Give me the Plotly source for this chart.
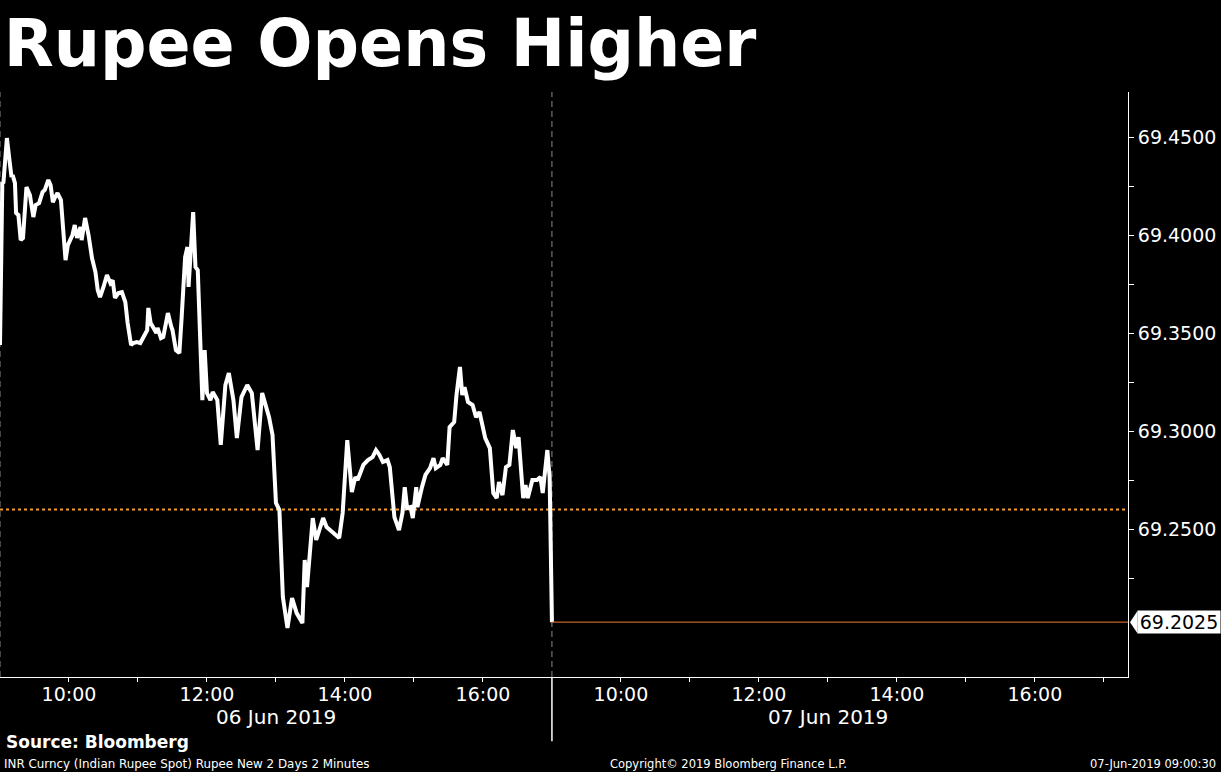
import plotly.graph_objects as go

# ── Data ──────────────────────────────────────────────────────────────────────
TITLE = "Rupee Opens Higher"

times_jun06 = [
    "09:00", "09:02", "09:03", "09:06", "09:08", "09:10", "09:11", "09:13", "09:14", "09:16",
    "09:18", "09:20", "09:23", "09:26", "09:29", "09:31", "09:34", "09:37", "09:39", "09:42",
    "09:44", "09:46", "09:48", "09:50", "09:53", "09:55", "09:57", "09:59", "10:03", "10:05",
    "10:07", "10:10", "10:11", "10:14", "10:17", "10:20", "10:23", "10:25", "10:27", "10:30",
    "10:33", "10:36", "10:38", "10:40", "10:43", "10:46", "10:49", "10:51", "10:54", "10:56",
    "10:59", "11:02", "11:04", "11:08", "11:09", "11:11", "11:13", "11:16", "11:17", "11:20",
    "11:22", "11:24", "11:26", "11:29", "11:30", "11:33", "11:36", "11:38", "11:41", "11:43",
    "11:44", "11:48", "11:50", "11:52", "11:56", "11:58", "12:00", "12:03", "12:05", "12:09",
    "12:12", "12:16", "12:19", "12:23", "12:26", "12:30", "12:35", "12:39", "12:42", "12:44",
    "12:48", "12:50", "12:54", "12:57", "13:00", "13:03", "13:06", "13:10", "13:14", "13:18",
    "13:23", "13:25", "13:27", "13:32", "13:35", "13:41", "13:44", "13:49", "13:55", "13:58",
    "14:02", "14:06", "14:09", "14:11", "14:16", "14:20", "14:24", "14:27", "14:30", "14:33",
    "14:37", "14:39", "14:43", "14:47", "14:50", "14:52", "14:54", "14:57", "14:59", "15:02",
    "15:03", "15:07", "15:10", "15:14", "15:17", "15:19", "15:23", "15:25", "15:29", "15:31",
    "15:35", "15:37", "15:40", "15:42", "15:44", "15:47", "15:51", "15:54", "15:57", "16:02",
    "16:06", "16:09", "16:12", "16:14", "16:17", "16:20", "16:23", "16:26", "16:29", "16:31",
    "16:35", "16:37", "16:39", "16:43", "16:47", "16:50", "16:52", "16:56", "16:58",
]
prices_jun06 = [
    69.3439, 69.4265, 69.4270, 69.4495, 69.4393, 69.4296, 69.4306, 69.4265, 69.4112, 69.4102,
    69.3974, 69.3985, 69.4245, 69.4204, 69.4092, 69.4153, 69.4163, 69.4219, 69.4230, 69.4281,
    69.4255, 69.4168, 69.4194, 69.4214, 69.4179, 69.4051, 69.3872, 69.3949, 69.4000, 69.4051,
    69.3985, 69.4041, 69.3974, 69.4087, 69.4000, 69.3883, 69.3811, 69.3719, 69.3684, 69.3735,
    69.3796, 69.3755, 69.3770, 69.3679, 69.3704, 69.3709, 69.3658, 69.3551, 69.3439, 69.3449,
    69.3454, 69.3449, 69.3474, 69.3515, 69.3628, 69.3551, 69.3531, 69.3500, 69.3526, 69.3474,
    69.3480, 69.3551, 69.3602, 69.3531, 69.3515, 69.3413, 69.3398, 69.3582, 69.3888, 69.3939,
    69.3735, 69.4117, 69.3837, 69.3821, 69.3158, 69.3413, 69.3194, 69.3158, 69.3199, 69.3158,
    69.2929, 69.3235, 69.3296, 69.3158, 69.2964, 69.3173, 69.3235, 69.3194, 69.3020, 69.2903,
    69.3194, 69.3158, 69.3071, 69.2980, 69.2633, 69.2597, 69.2153, 69.1995, 69.2148, 69.2071,
    69.2020, 69.2342, 69.2204, 69.2556, 69.2444, 69.2556, 69.2510, 69.2485, 69.2454, 69.2582,
    69.2954, 69.2689, 69.2765, 69.2750, 69.2827, 69.2852, 69.2867, 69.2903, 69.2878, 69.2842,
    69.2852, 69.2816, 69.2561, 69.2495, 69.2582, 69.2714, 69.2607, 69.2612, 69.2556, 69.2714,
    69.2612, 69.2714, 69.2776, 69.2811, 69.2862, 69.2811, 69.2827, 69.2862, 69.2827, 69.3020,
    69.3046, 69.3184, 69.3327, 69.3184, 69.3224, 69.3148, 69.3133, 69.3071, 69.3097, 69.2964,
    69.2913, 69.2684, 69.2658, 69.2740, 69.2673, 69.2816, 69.2827, 69.3005, 69.2913, 69.2969,
    69.2658, 69.2724, 69.2658, 69.2750, 69.2750, 69.2765, 69.2684, 69.2903, 69.2765,
]
times_jun07 = ["09:00"]
prices_jun07 = [69.2025]

PREV_CLOSE = 69.26
DAY_LABELS = ["06 Jun 2019", "07 Jun 2019"]
TICK_HOURS = [10, 11, 12, 13, 14, 15, 16, 17]
LABEL_HOURS = [10, 12, 14, 16]
Y_TICKS = [69.25, 69.30, 69.35, 69.40, 69.45]
Y_MINOR = [69.225, 69.275, 69.325, 69.375, 69.425]

SOURCE = "Source: Bloomberg"
FOOT_LEFT = "INR Curncy (Indian Rupee Spot) Rupee New 2 Days 2 Minutes"
FOOT_MID = "Copyright\u00a9 2019 Bloomberg Finance L.P."
FOOT_RIGHT = "07-Jun-2019 09:00:30"

assert len(times_jun06) == len(prices_jun06)

# ── Session axis: 09:00-17:00 per day, days placed side by side ───────────────
OPEN_H, SESSION = 9, 8


def to_x(hhmm, day):
    h, m = hhmm.split(":")
    return day * SESSION + int(h) + int(m) / 60 - OPEN_H


xs = [to_x(t, 0) for t in times_jun06] + [to_x(t, 1) for t in times_jun07]
ys = prices_jun06 + prices_jun07
last = ys[-1]

tick_all, label_vals, label_text = [], [], []
for d in range(2):
    for h in TICK_HOURS:
        if d == 0 and h == 17:
            continue
        tick_all.append(d * SESSION + h - OPEN_H)
        if h in LABEL_HOURS:
            label_vals.append(d * SESSION + h - OPEN_H)
            label_text.append(f"{h}:00")

FONT = "DejaVu Sans"
WHITE = "#ffffff"
ORANGE = "#f39a2d"
LASTLINE = "#f0783a"

fig = go.Figure(go.Scatter(
    x=xs, y=ys, mode="lines",
    line=dict(color=WHITE, width=4),
    hoverinfo="skip",
))

# previous close / last price / day separators
fig.add_hline(y=PREV_CLOSE, line=dict(color=ORANGE, width=2, dash="dot"), layer="below")
fig.add_shape(type="line", xref="x", yref="y", x0=SESSION, x1=2 * SESSION + 1,
              y0=last, y1=last, line=dict(color=LASTLINE, width=1))
for d in range(2):
    fig.add_shape(type="line", xref="x", yref="paper", x0=d * SESSION, x1=d * SESSION,
                  y0=0, y1=1, line=dict(color="#8a8a8a", width=1, dash="6px,4px"),
                  layer="below")
fig.add_shape(type="line", xref="x", yref="paper", x0=SESSION, x1=SESSION,
              y0=0, y1=-0.11, line=dict(color=WHITE, width=1.5))

# last-value tag on the right axis
fig.add_shape(type="path", xref="paper", yref="y",
              path=f"M 1.0018,{last} L 1.0085,{last + 0.0058} L 1.0085,{last - 0.0058} Z",
              fillcolor=WHITE, line=dict(width=0))
fig.add_annotation(xref="paper", yref="y", x=1.0080, y=last, xanchor="left",
                   text=f"{last:.4f}", showarrow=False, bgcolor=WHITE,
                   font=dict(family=FONT, size=19, color="#000000"),
                   width=82, height=22, borderpad=0)

# day labels under the time axis
for d, lab in enumerate(DAY_LABELS):
    fig.add_annotation(xref="x", yref="paper", x=d * SESSION + 4, y=0, yshift=-40,
                       text=lab, showarrow=False, yanchor="middle",
                       font=dict(family=FONT, size=20, color=WHITE))

# footer
fig.add_annotation(xref="paper", yref="paper", x=0, xshift=4, y=0, yshift=-65,
                   text=f"<b>{SOURCE}</b>", showarrow=False, xanchor="left",
                   yanchor="middle", font=dict(family=FONT, size=17, color=WHITE))
foot = dict(xref="paper", yref="paper", y=0, yshift=-87, showarrow=False,
            yanchor="middle", font=dict(family=FONT, size=11.5, color=WHITE))
fig.add_annotation(x=0, xshift=2, xanchor="left", text=FOOT_LEFT,
                   **{**foot, "font": dict(family=FONT, size=11.9, color=WHITE)})
fig.add_annotation(x=728 / 1128, xanchor="center", text=FOOT_MID, **foot)
fig.add_annotation(x=1218 / 1128, xanchor="right", text=FOOT_RIGHT, **foot)

fig.update_layout(
    width=1221, height=772,
    paper_bgcolor="#000000", plot_bgcolor="#000000",
    margin=dict(l=0, r=93, t=92, b=95),
    showlegend=False,
    title=dict(text=f"<b>{TITLE}</b>", x=0.003, xanchor="left", y=0.974, yanchor="top",
               font=dict(family=FONT, size=65, color=WHITE)),
    xaxis=dict(range=[0, 16.35], showgrid=False, zeroline=False,
               showline=True, linecolor=WHITE, linewidth=1,
               tickmode="array", tickvals=label_vals, ticktext=label_text, ticks="",
               tickfont=dict(family=FONT, size=19, color=WHITE),
               minor=dict(tickmode="array", tickvals=tick_all, ticks="outside",
                          ticklen=4, tickcolor=WHITE)),
    yaxis=dict(range=[69.1745, 69.4730], side="right", showgrid=False, zeroline=False,
               showline=True, linecolor=WHITE, linewidth=1,
               tickmode="array", tickvals=Y_TICKS, ticktext=[f"{v:.4f}" for v in Y_TICKS],
               ticks="outside", ticklen=5, tickcolor=WHITE,
               tickfont=dict(family=FONT, size=19, color=WHITE),
               minor=dict(tickmode="array", tickvals=Y_MINOR, ticks="outside",
                          ticklen=5, tickcolor=WHITE)),
    font=dict(family=FONT, color=WHITE),
)

fig.write_html("out.html", config={"displayModeBar": False},
               post_script="document.body.style.margin='0';")
